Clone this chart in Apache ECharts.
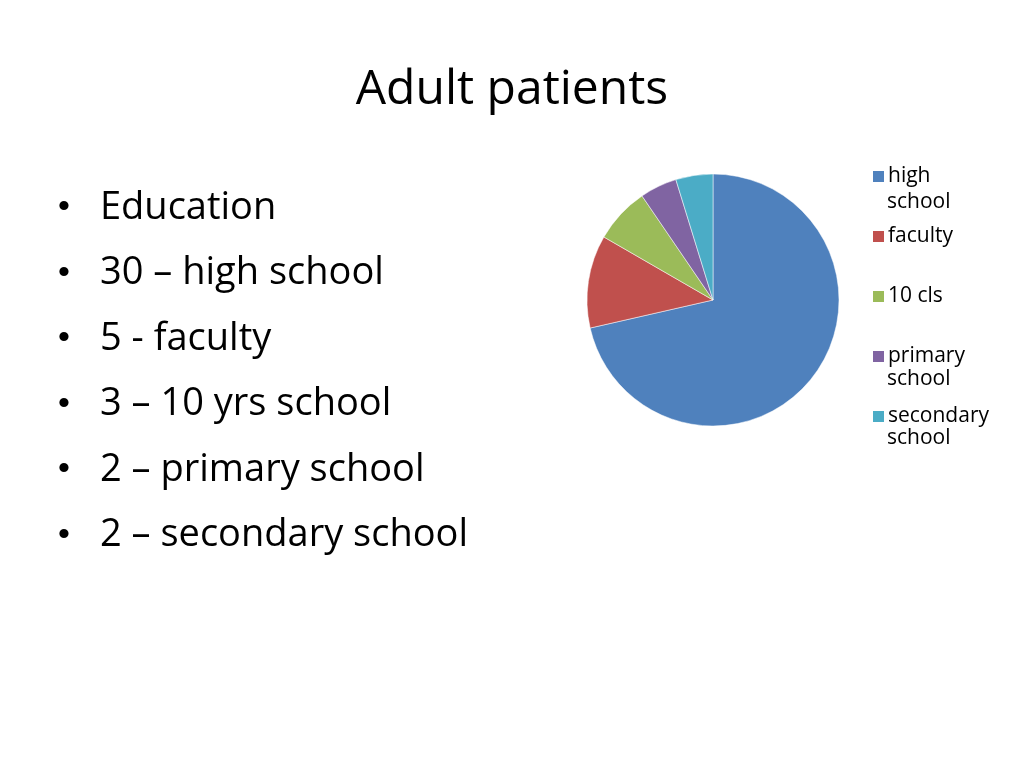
<!DOCTYPE html>
<html><head><meta charset="utf-8">
<script src="https://cdn.jsdelivr.net/npm/echarts@6/dist/echarts.min.js"></script>
<style>html,body{margin:0;background:#fff}#c{width:1024px;height:768px}</style>
</head><body><div id="c"></div>
<script>
const categories = ['high school','faculty','10 cls','primary school','secondary school'];
const values = [30,5,3,2,2];
const colors = ['#4F81BD','#C0504D','#9BBB59','#8064A2','#4BACC6'];
const bullets = ['Education','30 \u2013 high school','5 - faculty','3 \u2013 10 yrs school','2 \u2013 primary school','2 \u2013 secondary school'];
const font = 'Open Sans, Lato, sans-serif';
const chart = echarts.init(document.getElementById('c'));
const graphic = [{type:'text',left:'center',top:66,style:{text:'Adult patients',font:'48px '+font,fill:'#000'}}];
bullets.forEach((b,i)=>{
  graphic.push({type:'text',left:58,top:191+i*65.5,style:{text:'\u2022',font:'34px Arial',fill:'#000'}});
  graphic.push({type:'text',left:100,top:189+i*65.5,style:{text:b,font:'38px '+font,fill:'#000'}});
});
const secondLines = [[0,'school'],[3,'school'],[4,'school']];
secondLines.forEach(([i,t])=>{
  graphic.push({type:'text',left:887,top:192+i*59,style:{text:t,font:'21px '+font,fill:'#000'}});
});
chart.setOption({
  animation:false,
  color:colors,
  graphic,
  legend:{orient:'vertical',left:866,top:161,itemWidth:13,itemHeight:13,itemGap:39,icon:'rect',
    formatter:n=>n.split(' ')[0]==='10'?n:n.split(' ')[0],
    textStyle:{fontSize:21,fontFamily:font,color:'#000',lineHeight:20,padding:[0,0,0,-2]},
    data:categories},
  series:[{type:'pie',center:[713,300],radius:126,startAngle:90,clockwise:true,
    label:{show:false},labelLine:{show:false},
    itemStyle:{borderColor:'#fff',borderWidth:0.5},
    data:categories.map((c,i)=>({name:c,value:values[i]}))}]
});
</script></body></html>
